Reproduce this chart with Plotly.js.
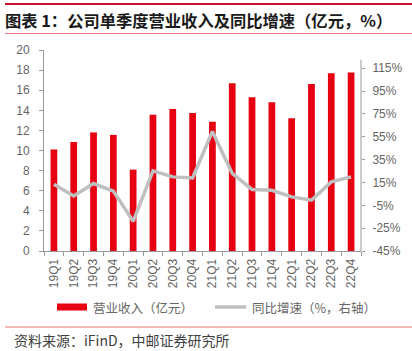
<!DOCTYPE html>
<html>
<head>
<meta charset="utf-8">
<script src="https://cdn.plot.ly/plotly-3.0.1.min.js"></script>
<style>
html,body{margin:0;padding:0;background:#fff;}
#chart{width:412px;height:351px;}
</style>
</head>
<body>
<div id="chart"></div>
<script>
// ---- data ----
var quarters = ['19Q1','19Q2','19Q3','19Q4','20Q1','20Q2','20Q3','20Q4','21Q1','21Q2','21Q3','21Q4','22Q1','22Q2','22Q3','22Q4'];
var revenue = [10.1, 10.85, 11.8, 11.55, 8.1, 13.55, 14.13, 13.73, 12.86, 16.69, 15.29, 14.8, 13.2, 16.62, 17.69, 17.75];
var growth = [13.5, 3.2, 14.1, 7.4, -19, 25.2, 19.9, 19.0, 59.7, 22.9, 8.9, 8.2, 2.4, -0.5, 15.5, 19.9];
var leftTicks = [0,2,4,6,8,10,12,14,16,18,20];
var rightTicks = [-45,-25,-5,15,35,55,75,95,115];
var rightTickText = rightTicks.map(function(v){return v + '%';});
var revenueName = '营业收入（亿元）';
var growthName = '同比增速（%，右轴）';
var titleText = '图表 1：公司单季度营业收入及同比增速（亿元，%）';
var sourceText = '资料来源：iFinD，中邮证券研究所';

// ---- layout helpers (pixel -> paper) ----
var W = 412, H = 351, ML = 44, MR = 51, MT = 50, MB = 100;
var PW = W - ML - MR, PH = H - MT - MB;
function px(x){ return (x - ML) / PW; }
function py(y){ return (H - MB - y) / PH; }

var red = '#E60012';
var grey = '#BFBFBF';
var axisCol = '#9A9A9A';
var txtCol = '#666666';
var tickFont = {family: 'Liberation Sans, Arial, sans-serif', size: 12, color: txtCol};
var cjk = 'Noto Sans CJK SC, sans-serif';

var traces = [
  {type: 'bar', x: quarters, y: revenue, name: revenueName, marker: {color: red}, width: 0.34, yaxis: 'y', showlegend: false, hoverinfo: 'none'},
  {type: 'scatter', mode: 'lines', x: quarters, y: growth, name: growthName, line: {color: grey, width: 3.5}, yaxis: 'y2', showlegend: false, hoverinfo: 'none'}
];

var layout = {
  width: W, height: H,
  margin: {l: ML, r: MR, t: MT, b: MB, pad: 0},
  paper_bgcolor: '#fff', plot_bgcolor: '#fff',
  showlegend: false,
  xaxis: {
    type: 'category', tickangle: -90, tickson: 'boundaries',
    ticks: 'outside', ticklen: 4, tickcolor: axisCol, tickwidth: 1,
    showline: true, linecolor: axisCol, linewidth: 1,
    showgrid: false, zeroline: false, tickfont: tickFont, ticklabelstandoff: 2
  },
  yaxis: {
    range: [0, 20], tickvals: leftTicks, ticks: 'outside', ticklen: 4, tickcolor: axisCol,
    showline: true, linecolor: axisCol, linewidth: 1, showgrid: false, zeroline: false,
    tickfont: tickFont, ticklabelstandoff: 7
  },
  yaxis2: {
    overlaying: 'y', side: 'right', range: [-45, 131], tickvals: rightTicks, ticktext: rightTickText,
    ticks: 'outside', ticklen: 3, tickcolor: axisCol, showline: false, showgrid: false, zeroline: false,
    tickfont: tickFont, ticklabelstandoff: 5
  },
  shapes: [
    // right axis line (stops short of the top)
    {type: 'line', xref: 'paper', yref: 'y2', x0: 1, x1: 1, y0: -45, y1: 122.5, line: {color: axisCol, width: 1}},
    // title rules
    {type: 'line', xref: 'paper', yref: 'paper', x0: px(5), x1: px(412), y0: py(4), y1: py(4), line: {color: '#C8102E', width: 2}},
    {type: 'line', xref: 'paper', yref: 'paper', x0: px(5), x1: px(412), y0: py(33.5), y1: py(33.5), line: {color: '#E57373', width: 1}},
    // footer rule
    {type: 'line', xref: 'paper', yref: 'paper', x0: px(5), x1: px(412), y0: py(327), y1: py(327), line: {color: '#E57373', width: 1}},
    // legend symbols
    {type: 'rect', xref: 'paper', yref: 'paper', x0: px(57), x1: px(87), y0: py(310.5), y1: py(303.5), line: {width: 0}, fillcolor: red},
    {type: 'line', xref: 'paper', yref: 'paper', x0: px(215), x1: px(246), y0: py(307), y1: py(307), line: {color: grey, width: 3.5}}
  ],
  annotations: [
    {xref: 'paper', yref: 'paper', x: px(3), y: py(20), xanchor: 'left', yanchor: 'middle', showarrow: false,
     text: '<b>' + titleText + '</b>', font: {family: cjk, size: 16.3, color: '#1a1a1a'}},
    {xref: 'paper', yref: 'paper', x: px(91), y: py(307), xanchor: 'left', yanchor: 'middle', showarrow: false,
     text: revenueName, font: {family: cjk, size: 12.5, color: txtCol}},
    {xref: 'paper', yref: 'paper', x: px(250), y: py(307), xanchor: 'left', yanchor: 'middle', showarrow: false,
     text: growthName, font: {family: cjk, size: 12.5, color: txtCol}},
    {xref: 'paper', yref: 'paper', x: px(12), y: py(340), xanchor: 'left', yanchor: 'middle', showarrow: false,
     text: sourceText, font: {family: cjk, size: 14, color: '#404040'}}
  ]
};

Plotly.newPlot('chart', traces, layout, {staticPlot: true, displayModeBar: false});
</script>
</body>
</html>
